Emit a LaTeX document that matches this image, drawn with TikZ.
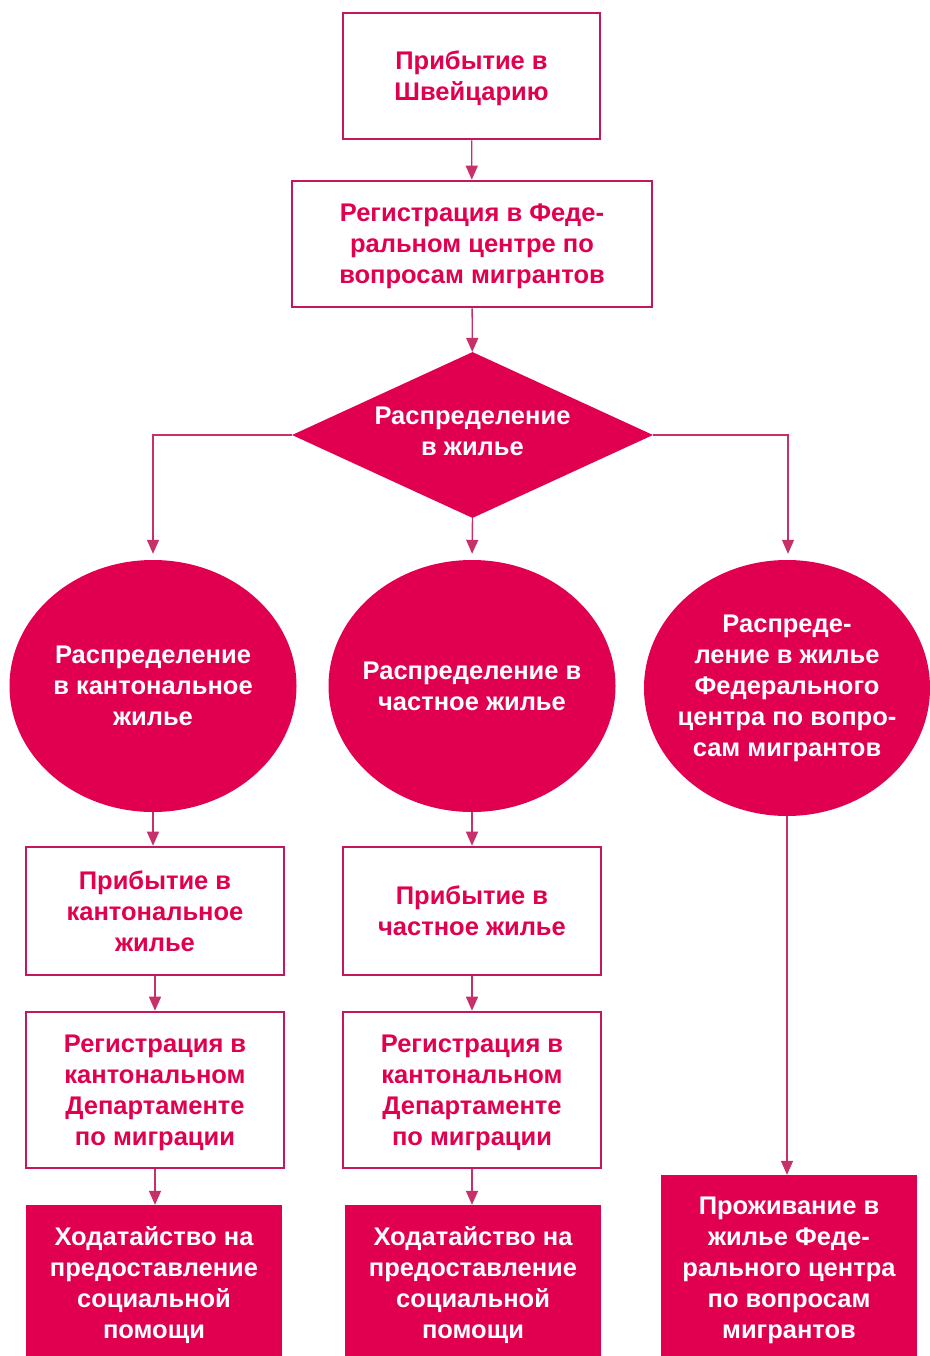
\documentclass[tikz,border=0pt]{standalone}
\usepackage{fontspec}
\setmainfont{Liberation Sans}
\usetikzlibrary{shapes.geometric,arrows.meta}
\definecolor{crim}{HTML}{E0004F}
\definecolor{edge}{HTML}{C4185C}
\definecolor{conn}{HTML}{C8306A}
\begin{document}
\begin{tikzpicture}[x=1pt,y=-1pt,
  txt/.style={font=\fontsize{25.5}{31}\selectfont\bfseries, align=center, inner sep=0pt},
  obox/.style={txt, draw=edge, line width=2.6pt, fill=white, text=crim, text depth=0pt},
  fbox/.style={txt, fill=crim, text=white},
  fell/.style={txt, ellipse, fill=crim, text=white, inner xsep=-45pt, inner ysep=-10pt},
  conn/.style={draw=conn, line width=1.4pt, -{Triangle[width=12pt,length=14pt]}}
]
\useasboundingbox (0,0) rectangle (929,1356);
\node[obox, minimum width=257pt, minimum height=126pt] (b1) at (471.5,76) {Прибытие в\\Швейцарию};
\node[obox, minimum width=360pt, minimum height=126pt] (b2) at (472,244) {Регистрация в Феде-\\ральном центре по\\вопросам мигрантов};
\node[txt, diamond, fill=crim, text=white, minimum width=361pt, minimum height=166pt, aspect=2.17, text depth=7pt] (d) at (472.5,435) {Распределение\\в жилье};
\node[fell, minimum width=287pt, minimum height=252pt] (c1) at (153,686) {Распределение\\в кантональное\\жилье};
\node[fell, minimum width=287pt, minimum height=252pt] (c2) at (472,686) {Распределение в\\частное жилье};
\node[fell, minimum width=286pt, minimum height=256pt] (c3) at (787,688) {Распреде-\\ление в жилье\\Федерального\\центра по вопро-\\сам мигрантов};
\node[obox, minimum width=258pt, minimum height=128pt] (a1) at (155,911) {Прибытие в\\кантональное\\жилье};
\node[obox, minimum width=258pt, minimum height=128pt] (a2) at (472,911) {Прибытие в\\частное жилье};
\node[obox, minimum width=258pt, minimum height=156pt] (r1) at (155,1090) {Регистрация в\\кантональном\\Департаменте\\по миграции};
\node[obox, minimum width=258pt, minimum height=156pt] (r2) at (472,1090) {Регистрация в\\кантональном\\Департаменте\\по миграции};
\node[fbox, minimum width=256pt, minimum height=160pt] (h1) at (154,1285) {Ходатайство на\\предоставление\\социальной\\помощи};
\node[fbox, minimum width=256pt, minimum height=160pt] (h2) at (473,1285) {Ходатайство на\\предоставление\\социальной\\помощи};
\node[fbox, minimum width=256pt, minimum height=190pt] (p3) at (789,1270) {Проживание в\\жилье Феде-\\рального центра\\по вопросам\\мигрантов};
\draw[conn] (b1) -- (b2);
\draw[conn] (b2) -- (d);
\draw[conn, shorten >=6pt] (d.west) -| (c1.north);
\draw[conn, shorten >=6pt] (d.south) -- (c2.north);
\draw[conn, shorten >=6pt] (d.east) -| ([xshift=1pt]c3.north);
\draw[conn] (c1) -- (a1.north -| c1);
\draw[conn] (c2) -- (a2);
\draw[conn] (a1) -- (r1);
\draw[conn] (a2) -- (r2);
\draw[conn] (r1) -- (h1.north -| r1);
\draw[conn] (r2) -- (h2.north -| r2);
\draw[conn] (c3.south) -- (p3.north -| c3.south);
\end{tikzpicture}
\end{document}
